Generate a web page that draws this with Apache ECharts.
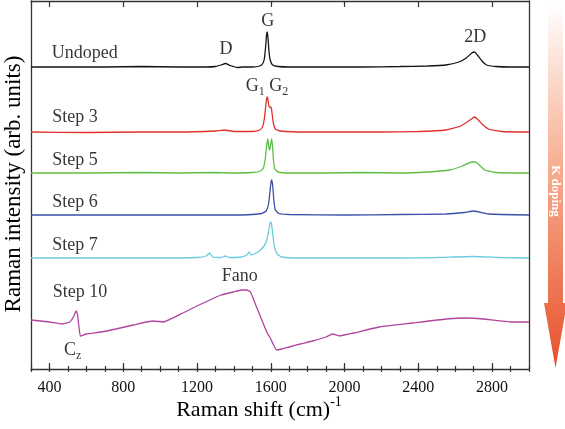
<!DOCTYPE html>
<html><head><meta charset="utf-8">
<script src="https://cdn.jsdelivr.net/npm/echarts@6/dist/echarts.min.js"></script>
<style>html,body{margin:0;padding:0;background:#fff}#c{width:565px;height:429px}</style>
</head><body><div id="c"></div>
<script>
// Raman shift (cm^-1) vs. offset intensity (arb. units)
const undoped = [[300,302],[500,302],[700,302],[900,302.5],[1100,302],[1250,302],[1300,302.5],[1330,304],[1355,305.5],[1380,303.5],[1420,301.5],[1450,302],[1500,302],[1540,303],[1555,305],[1565,310],[1572,322],[1577,334],[1581,337],[1585,331],[1590,318],[1597,309],[1610,304],[1640,302.5],[1700,302],[1900,302],[2100,302],[2300,302.5],[2450,303],[2550,304],[2620,307],[2660,311],[2690,316],[2705,317],[2720,314],[2745,308],[2770,304],[2820,302.5],[2900,302],[3000,302]];
const step3 = [[300,237],[600,236.5],[900,237],[1100,237],[1300,238],[1350,239],[1400,237.5],[1500,237.5],[1540,239],[1555,242],[1565,250],[1572,262],[1578,271],[1582,272],[1587,266],[1592,262],[1598,262],[1603,261],[1608,254],[1615,245],[1625,240],[1650,238],[1800,237],[2000,237],[2200,237],[2400,237.5],[2550,239],[2630,243],[2680,249],[2705,252],[2720,250],[2745,245],[2780,240],[2850,237.5],[3000,237]];
const step5 = [[300,196],[600,196],[900,196.5],[1100,196],[1300,196.5],[1400,196],[1500,196.5],[1545,198],[1560,201],[1570,210],[1578,224],[1584,230],[1589,222],[1594,219],[1599,224],[1604,230],[1609,224],[1614,210],[1622,200],[1640,197],[1700,196],[1900,196],[2100,196.5],[2300,196],[2450,197],[2570,199],[2640,203],[2690,207],[2710,207],[2730,204],[2760,199],[2820,196.5],[3000,196]];
const step6 = [[300,154],[700,154],[1100,154],[1400,154],[1500,154.5],[1550,155.5],[1575,158],[1588,165],[1596,178],[1602,188],[1606,189],[1611,182],[1617,168],[1625,159],[1645,155.5],[1700,154.5],[2000,154],[2300,154.5],[2550,155],[2650,156.5],[2700,158],[2730,157],[2780,155],[3000,154]];
const step7 = [[300,111],[700,111],[1000,111],[1200,111.5],[1250,113],[1268,116],[1285,112],[1330,111.5],[1355,113],[1375,111.5],[1440,112],[1470,114],[1482,117],[1495,114],[1530,117],[1560,122],[1580,130],[1592,142],[1598,147],[1603,146],[1610,136],[1620,122],[1635,115],[1660,112],[1750,111],[2000,111],[2300,111],[2500,111.5],[2700,112.5],[2850,111.5],[3000,111]];
const step10 = [[300,49],[400,47],[470,45],[510,47],[530,52],[545,58],[552,55],[560,42],[568,33],[600,35],[680,37],[760,40],[855,44],[962,48],[1016,47],[1124,56],[1200,63],[1270,69],[1330,74],[1395,77],[1440,79],[1470,79],[1490,77],[1514,66],[1545,52],[1578,37],[1600,30],[1615,24],[1632,19],[1660,20],[1700,22],[1760,25],[1827,28],[1900,32],[1935,35],[1973,33],[2050,36],[2189,42],[2368,46],[2551,50],[2659,51],[2750,50],[2908,47],[3000,47]];

const seriesNames = ['Undoped','Step 3','Step 5','Step 6','Step 7','Step 10'];
const seriesData = [undoped, step3, step5, step6, step7, step10];
const seriesColors = ['#151515','#e0312c','#5fbf45','#3b50a6','#6ccbe0','#b2439f'];

const xTickLabels = [400,800,1200,1600,2000,2400,2800];
const xMinorTicks = [300,400,500,600,700,800,900,1000,1100,1200,1300,1400,1500,1600,1700,1800,1900,2000,2100,2200,2300,2400,2500,2600,2700,2800,2900,3000];

// annotation text anchored in data coordinates [x, y, rich text]
const annotations = [
  [592,316,'{m|Undoped}'],[538,252,'{m|Step 3}'],[538,209,'{m|Step 5}'],[538,167,'{m|Step 6}'],[538,124,'{m|Step 7}'],[565,77,'{m|Step 10}'],
  [1357,320,'{m|D}'],[1584,348,'{m|G}'],[2708,332,'{m|2D}'],[1580,283,'{m|G}{s|1}{m| G}{s|2}'],[1432,93,'{m|Fano}'],[526,19,'{m|C}{s|z}']
];

const FONT = "'Liberation Serif','DejaVu Serif',serif";
const chart = echarts.init(document.getElementById('c'), null, {renderer:'canvas'});
const frame = {show:true, onZero:false, lineStyle:{color:'#333', width:1.3}};
const xBase = {type:'value', min:300, max:3000, splitLine:{show:false}};

const option = {
  animation:false,
  backgroundColor:'#fff',
  grid:{left:31, right:36, top:1, bottom:60},
  xAxis:[
    Object.assign({}, xBase, {position:'bottom', axisLine:frame,
      axisTick:{show:true, inside:true, length:6, customValues:xTickLabels, lineStyle:{color:'#333', width:1.2}},
      axisLabel:{show:true, customValues:xTickLabels, margin:11, fontSize:16, color:'#111', fontFamily:FONT, formatter:v=>String(v)}}),
    Object.assign({}, xBase, {position:'bottom', axisLine:{show:false},
      axisTick:{show:true, inside:true, length:3, customValues:xMinorTicks, lineStyle:{color:'#333', width:1.2}},
      axisLabel:{show:false}}),
    Object.assign({}, xBase, {position:'top', axisLine:frame,
      axisTick:{show:true, inside:true, length:6, customValues:xTickLabels, lineStyle:{color:'#333', width:1.2}},
      axisLabel:{show:false}}),
    Object.assign({}, xBase, {position:'top', axisLine:{show:false},
      axisTick:{show:true, inside:true, length:3, customValues:xMinorTicks, lineStyle:{color:'#333', width:1.2}},
      axisLabel:{show:false}})
  ],
  yAxis:[
    {type:'value', min:0, max:368, position:'left', axisLine:frame, axisTick:{show:false}, axisLabel:{show:false}, splitLine:{show:false}},
    {type:'value', min:0, max:368, position:'right', axisLine:frame, axisTick:{show:false}, axisLabel:{show:false}, splitLine:{show:false}}
  ],
  series: seriesData.map((d,i)=>({
    name:seriesNames[i], type:'line', data:d, xAxisIndex:0, yAxisIndex:0,
    showSymbol:false, smooth:0.15, lineStyle:{color:seriesColors[i], width:1.3}, silent:true, z:2
  })).concat([{
    type:'scatter', xAxisIndex:0, yAxisIndex:0, symbolSize:0, silent:true, z:5,
    data: annotations.map(a=>({value:[a[0],a[1]], txt:a[2]})),
    label:{show:true, position:'inside', formatter:p=>p.data.txt,
      fontFamily:FONT, color:'#000',
      rich:{m:{fontSize:18, fontFamily:FONT, color:'#000', verticalAlign:'top', lineHeight:18},
            s:{fontSize:12, fontFamily:FONT, color:'#000', verticalAlign:'top', lineHeight:12, padding:[9,0,0,0]}}}
  }]),
  graphic:[
    {type:'polygon', shape:{points:[[548,4],[563,4],[563,303],[567,303],[555.5,368],[544,303],[548,303]]},
     style:{fill:new echarts.graphic.LinearGradient(0,0,0,1,[{offset:0,color:'#ffffff'},{offset:0.45,color:'#f6ad90'},{offset:1,color:'#e8502a'}])}, z:1},
    {type:'text', x:555.5, y:191, rotation:-Math.PI/2,
     style:{text:'K doping', fill:'#fff', font:"bold 13px "+FONT, align:'center', verticalAlign:'middle'}, z:3},
    {type:'text', x:259, y:408,
     style:{text:'{a|Raman shift (cm)}{b|-1}', align:'center', verticalAlign:'middle',
       rich:{a:{fontSize:22, fontFamily:FONT, fill:'#000', verticalAlign:'top', lineHeight:26, padding:[4,0,0,0]},
             b:{fontSize:14, fontFamily:FONT, fill:'#000', verticalAlign:'top', lineHeight:14}}}},
    {type:'text', x:14, y:184, rotation:Math.PI/2,
     style:{text:'Raman intensity (arb. units)', font:"23px "+FONT, fill:'#000', align:'center', verticalAlign:'middle'}}
  ]
};
chart.setOption(option);
</script></body></html>
